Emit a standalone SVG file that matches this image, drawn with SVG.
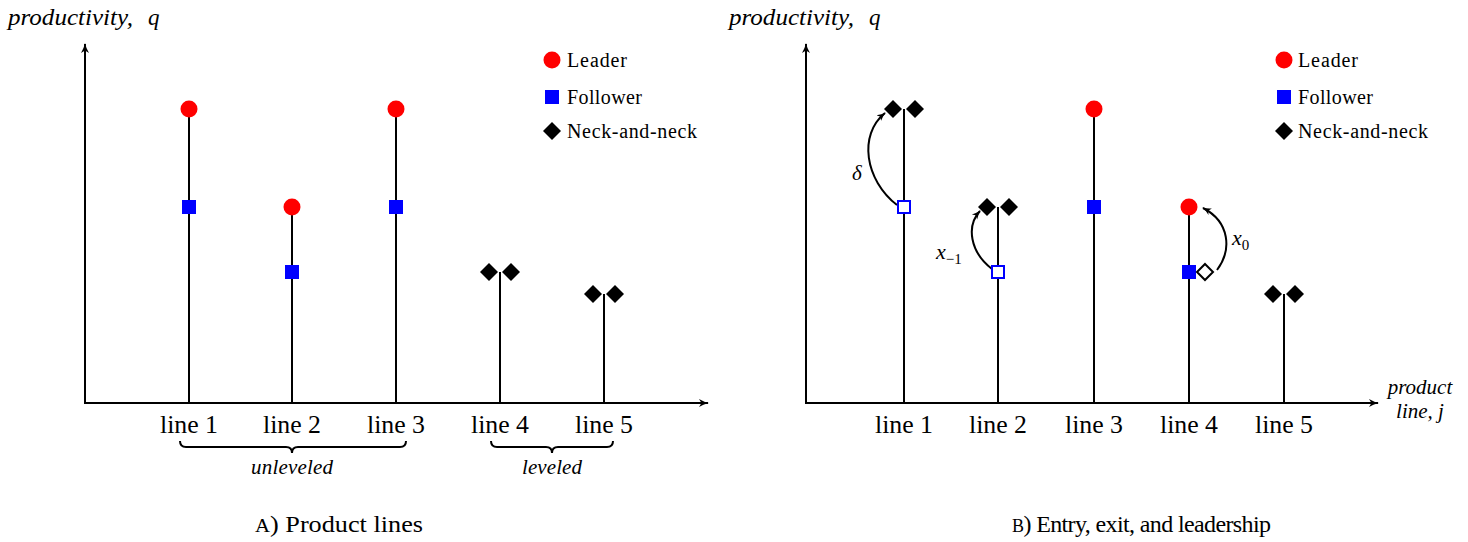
<svg xmlns="http://www.w3.org/2000/svg" width="1468" height="542" viewBox="0 0 1468 542">
<style>
.ax{stroke:#000;stroke-width:2;fill:none}
.stem{stroke:#000;stroke-width:2}
.ld{fill:#ff0000}
.fl{fill:#0000ff}
.fh{fill:#fff;stroke:#0000ff;stroke-width:2}
.nn{fill:#000}
.nh{fill:#fff;stroke:#000;stroke-width:2}
.t{font-family:"Liberation Serif",serif;fill:#000}
.lab{font-size:25px;text-anchor:middle}
.leg{font-size:20px}
.it{font-style:italic}
.cap{font-size:24px}
.cur{stroke:#000;stroke-width:2;fill:none}
</style>
<defs>
<marker id="ah" viewBox="0 0 10 10" refX="9" refY="5" markerWidth="10" markerHeight="10" markerUnits="userSpaceOnUse" orient="auto">
<path d="M0,1 Q5,4 10,5 Q5,6 0,9 L2.5,5 Z" fill="#000"/>
</marker>
<marker id="ah2" viewBox="0 0 10 10" refX="9" refY="5" markerWidth="9" markerHeight="9" markerUnits="userSpaceOnUse" orient="auto">
<path d="M0,1 Q5,4 10,5 Q5,6 0,9 L2.5,5 Z" fill="#000"/>
</marker>
<circle id="cL" r="8.5" class="ld"/>
<rect id="sF" x="-7" y="-7" width="14" height="14" class="fl"/>
<rect id="sH" x="-6" y="-6" width="12" height="12" class="fh"/>
<path id="dN" d="M0,-9 L9,0 L0,9 L-9,0 Z" class="nn"/>
<path id="dH" d="M0,-8 L8,0 L0,8 L-8,0 Z" class="nh"/>
</defs>

<!-- Panel A -->
<g id="panelA-axes">
<line x1="85" y1="404" x2="85" y2="44" class="ax" marker-end="url(#ah)"/>
<line x1="84" y1="403" x2="708" y2="403" class="ax" marker-end="url(#ah)"/>
<text x="8" y="25" class="t it" font-size="23" textLength="125" lengthAdjust="spacingAndGlyphs">productivity,</text>
<text x="148" y="25" class="t it" font-size="23">q</text>
</g>
<g id="connectors-A">
<line x1="189" y1="109" x2="189" y2="403" class="stem"/>
<line x1="292" y1="207" x2="292" y2="403" class="stem"/>
<line x1="396" y1="109" x2="396" y2="403" class="stem"/>
<line x1="500" y1="272" x2="500" y2="403" class="stem"/>
<line x1="604" y1="294" x2="604" y2="403" class="stem"/>
</g>
<g id="A-line1"><use href="#cL" x="189" y="109"/><use href="#sF" x="189" y="207"/><text x="189" y="433" class="t lab" textLength="58" lengthAdjust="spacingAndGlyphs">line 1</text></g>
<g id="A-line2"><use href="#cL" x="292" y="207"/><use href="#sF" x="292" y="272"/><text x="292" y="433" class="t lab" textLength="58" lengthAdjust="spacingAndGlyphs">line 2</text></g>
<g id="A-line3"><use href="#cL" x="396" y="109"/><use href="#sF" x="396" y="207"/><text x="396" y="433" class="t lab" textLength="58" lengthAdjust="spacingAndGlyphs">line 3</text></g>
<g id="A-line4"><use href="#dN" x="489" y="272"/><use href="#dN" x="511" y="272"/><text x="500" y="433" class="t lab" textLength="58" lengthAdjust="spacingAndGlyphs">line 4</text></g>
<g id="A-line5"><use href="#dN" x="593" y="294"/><use href="#dN" x="615" y="294"/><text x="604" y="433" class="t lab" textLength="58" lengthAdjust="spacingAndGlyphs">line 5</text></g>
<g id="A-braces">
<path d="M180,441 Q180,447 186,447 L286,447 Q292,447 292,453 Q292,447 298,447 L400,447 Q406,447 406,441" class="cur" stroke-width="1.5"/>
<text x="292" y="474" class="t it" font-size="21" text-anchor="middle" textLength="82">unleveled</text>
<path d="M491,441 Q491,447 497,447 L546,447 Q552,447 552,453 Q552,447 558,447 L607,447 Q613,447 613,441" class="cur" stroke-width="1.5"/>
<text x="552" y="474" class="t it" font-size="21" text-anchor="middle" textLength="60">leveled</text>
</g>
<g id="A-legend">
<use href="#cL" x="552" y="60"/><text x="567" y="67" class="t leg" textLength="60">Leader</text>
<use href="#sF" x="552" y="97"/><text x="567" y="104" class="t leg" textLength="75">Follower</text>
<use href="#dN" x="552" y="131"/><text x="567" y="138" class="t leg" textLength="130">Neck-and-neck</text>
</g>
<text x="255" y="532" class="t cap" font-size="26" textLength="168" lengthAdjust="spacingAndGlyphs"><tspan font-size="19">A</tspan>) Product lines</text>

<!-- Panel B -->
<g id="panelB-axes">
<line x1="806" y1="404" x2="806" y2="44" class="ax" marker-end="url(#ah)"/>
<line x1="805" y1="403" x2="1378" y2="403" class="ax" marker-end="url(#ah)"/>
<text x="729" y="25" class="t it" font-size="23" textLength="125" lengthAdjust="spacingAndGlyphs">productivity,</text>
<text x="869" y="25" class="t it" font-size="23">q</text>
<text x="1420" y="394" class="t it" font-size="21" text-anchor="middle">product</text>
<text x="1420" y="418" class="t it" font-size="21" text-anchor="middle">line,  j</text>
</g>
<g id="connectors-B">
<line x1="904" y1="109" x2="904" y2="403" class="stem"/>
<line x1="998" y1="207" x2="998" y2="403" class="stem"/>
<line x1="1094" y1="109" x2="1094" y2="403" class="stem"/>
<line x1="1189" y1="207" x2="1189" y2="403" class="stem"/>
<line x1="1284" y1="294" x2="1284" y2="403" class="stem"/>
<path d="M897,205 C865,180 858,135 885,113" class="cur" marker-end="url(#ah2)"/>
<path d="M992,269 C970,252 966,226 980,211" class="cur" marker-end="url(#ah2)"/>
<path d="M1217,270 C1232,250 1230,222 1203,208" class="cur" marker-end="url(#ah2)"/>
</g>
<g id="B-line1"><use href="#dN" x="893" y="109"/><use href="#dN" x="915" y="109"/><use href="#sH" x="904" y="207"/><text x="904" y="433" class="t lab" textLength="58" lengthAdjust="spacingAndGlyphs">line 1</text><text x="857" y="180" class="t it" font-size="21" text-anchor="middle">δ</text></g>
<g id="B-line2"><use href="#dN" x="987" y="207"/><use href="#dN" x="1009" y="207"/><use href="#sH" x="998" y="272"/><text x="998" y="433" class="t lab" textLength="58" lengthAdjust="spacingAndGlyphs">line 2</text><text x="936" y="259" class="t it" font-size="22">x<tspan font-style="normal" font-size="15" dy="5">−1</tspan></text></g>
<g id="B-line3"><use href="#cL" x="1094" y="109"/><use href="#sF" x="1094" y="207"/><text x="1094" y="433" class="t lab" textLength="58" lengthAdjust="spacingAndGlyphs">line 3</text></g>
<g id="B-line4"><use href="#cL" x="1189" y="207"/><use href="#sF" x="1189" y="272"/><use href="#dH" x="1205" y="272"/><text x="1189" y="433" class="t lab" textLength="58" lengthAdjust="spacingAndGlyphs">line 4</text><text x="1232" y="245" class="t it" font-size="22">x<tspan font-style="normal" font-size="15" dy="5">0</tspan></text></g>
<g id="B-line5"><use href="#dN" x="1273" y="294"/><use href="#dN" x="1295" y="294"/><text x="1284" y="433" class="t lab" textLength="58" lengthAdjust="spacingAndGlyphs">line 5</text></g>
<g id="B-legend">
<use href="#cL" x="1284" y="60"/><text x="1298" y="67" class="t leg" textLength="60">Leader</text>
<use href="#sF" x="1284" y="97"/><text x="1298" y="104" class="t leg" textLength="75">Follower</text>
<use href="#dN" x="1284" y="131"/><text x="1298" y="138" class="t leg" textLength="130">Neck-and-neck</text>
</g>
<text x="1012" y="532" class="t cap" textLength="259"><tspan font-size="18">B</tspan>) Entry, exit, and leadership</text>
</svg>
